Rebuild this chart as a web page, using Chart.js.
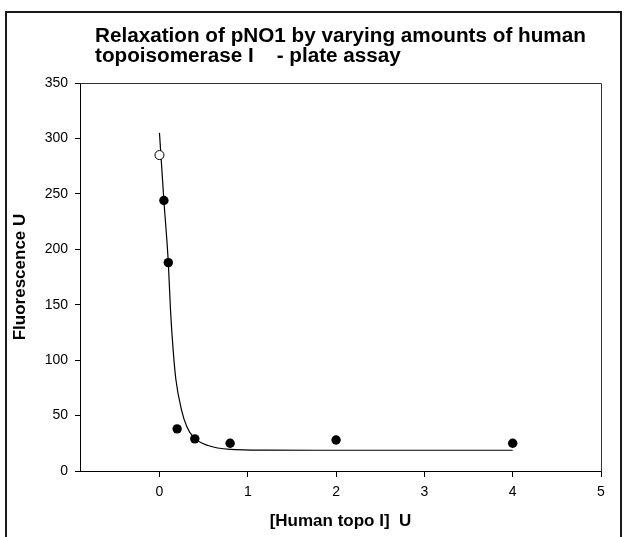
<!DOCTYPE html>
<html>
<head>
<meta charset="utf-8">
<script src="https://cdn.jsdelivr.net/npm/chart.js@4.4.0/dist/chart.umd.min.js"></script>
<style>
  html, body { margin: 0; padding: 0; background: #ffffff; }
  #wrap { width: 627px; height: 537px; }
</style>
</head>
<body>
<div id="wrap"><canvas id="c" width="627" height="537"></canvas></div>
<script>
// ---- data ----
const titleLines = ["Relaxation of pNO1 by varying amounts of human", "topoisomerase I    - plate assay"];
const xAxisTitle = "[Human topo I]  U";
const yAxisTitle = "Fluorescence U";

const doseU = [0.05, 0.1, 0.2, 0.4, 0.8, 2, 4];
const fluorescence = [244, 188, 38, 29, 25, 28, 25];

const controlDose = [0];
const controlFluorescence = [285];

const fitDose = [0, 0.05, 0.1, 0.125, 0.155, 0.185, 0.25, 0.31, 0.385, 0.55, 0.8, 1.2, 2, 4];
const fitFluorescence = [305, 244, 188, 145, 109, 83, 55, 40, 30.5, 23, 19.5, 18.8, 18.7, 18.7];

const xTicks = [0, 1, 2, 3, 4, 5];
const yTicks = [0, 50, 100, 150, 200, 250, 300, 350];

const FONT = "Arial, 'Liberation Sans', sans-serif";

const toPts = (xs, ys) => xs.map((x, i) => ({ x: x, y: ys[i] }));

const decorPlugin = {
  id: 'decor',
  afterDraw(chart) {
    const ctx = chart.ctx;
    const a = chart.chartArea;
    ctx.save();
    // plot box top and right
    ctx.strokeStyle = '#333333';
    ctx.lineWidth = 1;
    ctx.beginPath();
    ctx.moveTo(Math.round(a.left) + 0.5, Math.round(a.top) + 0.5);
    ctx.lineTo(Math.round(a.right) + 0.5, Math.round(a.top) + 0.5);
    ctx.lineTo(Math.round(a.right) + 0.5, Math.round(a.bottom) + 0.5);
    ctx.stroke();
    // outer frame
    ctx.strokeStyle = '#1a1a1a';
    ctx.lineWidth = 2;
    ctx.beginPath();
    ctx.moveTo(6, 545);
    ctx.lineTo(6, 12);
    ctx.lineTo(621, 12);
    ctx.lineTo(621, 545);
    ctx.stroke();
    // title
    ctx.fillStyle = '#000000';
    ctx.font = 'bold 20.7px ' + FONT;
    ctx.textAlign = 'left';
    ctx.textBaseline = 'alphabetic';
    ctx.fillText(titleLines[0], 95, 42);
    ctx.fillText(titleLines[1], 95, 62);
    ctx.restore();
  }
};

new Chart(document.getElementById('c'), {
  type: 'scatter',
  data: {
    datasets: [
      {
        label: 'fit',
        type: 'line',
        data: toPts(fitDose, fitFluorescence),
        borderColor: '#000000',
        borderWidth: 1.2,
        pointRadius: 0,
        fill: false,
        cubicInterpolationMode: 'monotone',
        order: 3
      },
      {
        label: 'control',
        data: toPts(controlDose, controlFluorescence),
        pointRadius: 4.5,
        pointBackgroundColor: '#ffffff',
        pointBorderColor: '#000000',
        pointBorderWidth: 1,
        order: 1
      },
      {
        label: 'topo I',
        data: toPts(doseU, fluorescence),
        pointRadius: 4.7,
        pointBackgroundColor: '#000000',
        pointBorderColor: '#000000',
        pointBorderWidth: 0,
        order: 2
      }
    ]
  },
  options: {
    responsive: false,
    animation: false,
    layout: { padding: { top: 83, right: 26, bottom: 0, left: 0 } },
    plugins: {
      legend: { display: false },
      tooltip: { enabled: false },
      title: { display: false }
    },
    scales: {
      x: {
        type: 'linear',
        min: -0.9,
        max: 5,
        afterBuildTicks: (s) => { s.ticks = xTicks.map(v => ({ value: v })); },
        afterFit: (s) => { s.height = 66; },
        border: { display: true, color: '#000000', width: 1 },
        grid: { drawOnChartArea: false, drawTicks: true, tickLength: 6, color: '#000000' },
        ticks: { color: '#000000', font: { family: FONT, size: 14 }, padding: 7, maxRotation: 0 },
        title: { display: true, text: xAxisTitle, color: '#000000', font: { family: FONT, size: 17, weight: 'bold' }, padding: { top: 0, bottom: 5 } }
      },
      y: {
        type: 'linear',
        min: 0,
        max: 350,
        afterBuildTicks: (s) => { s.ticks = yTicks.map(v => ({ value: v })); },
        afterFit: (s) => { s.width = 80; },
        border: { display: true, color: '#000000', width: 1 },
        grid: { drawOnChartArea: false, drawTicks: true, tickLength: 5, color: '#000000' },
        ticks: { color: '#000000', font: { family: FONT, size: 14 }, padding: 7 },
        title: { display: true, text: yAxisTitle, color: '#000000', font: { family: FONT, size: 17, weight: 'bold' }, padding: { top: 10, bottom: 0 } }
      }
    }
  },
  plugins: [decorPlugin]
});
</script>
</body>
</html>
